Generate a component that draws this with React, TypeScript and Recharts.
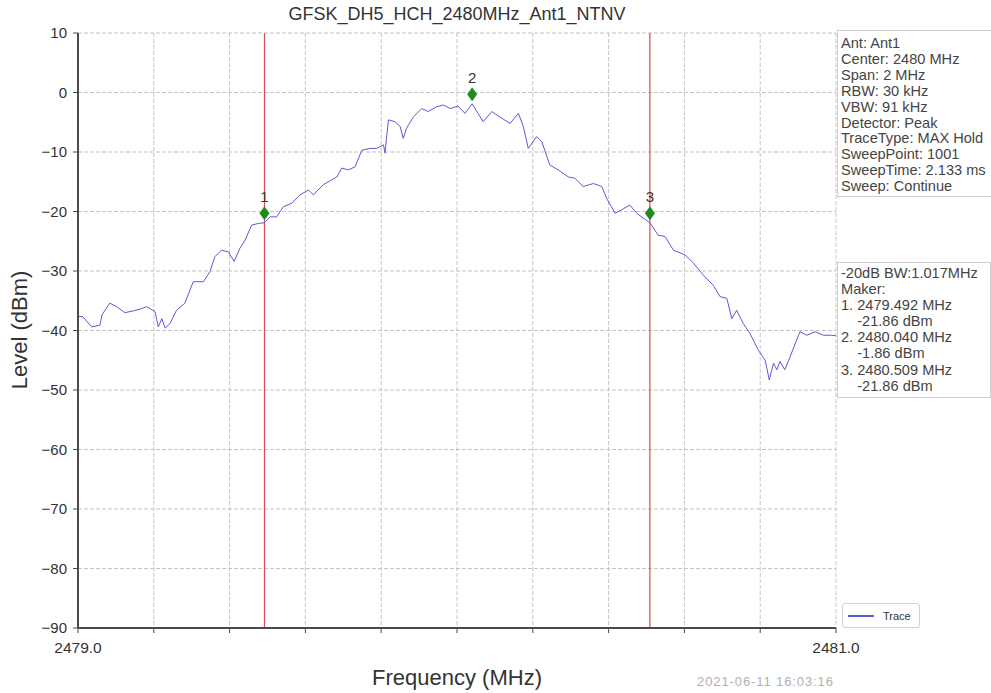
import React from 'react';
import {
  ComposedChart, Line, Scatter, XAxis, YAxis, CartesianGrid, ReferenceLine,
} from 'recharts';

const titleText = 'GFSK_DH5_HCH_2480MHz_Ant1_NTNV';
const xLabel = 'Frequency (MHz)';
const yLabel = 'Level (dBm)';
const timestamp = '2021-06-11 16:03:16';
const seriesName = 'Trace';

const xTicks = [2479.0, 2479.2, 2479.4, 2479.6, 2479.8, 2480.0, 2480.2, 2480.4, 2480.6, 2480.8, 2481.0];
const yTicks = [-90, -80, -70, -60, -50, -40, -30, -20, -10, 0, 10];

const traceFreqs = [
  2479.000, 2479.013, 2479.036, 2479.058, 2479.063, 2479.084, 2479.102, 2479.124, 2479.146, 2479.164,
  2479.181, 2479.203, 2479.212, 2479.221, 2479.230, 2479.243, 2479.260, 2479.282, 2479.304, 2479.331,
  2479.348, 2479.361, 2479.379, 2479.397, 2479.412, 2479.427, 2479.441, 2479.458, 2479.476, 2479.492,
  2479.507, 2479.524, 2479.542, 2479.564, 2479.586, 2479.608, 2479.621, 2479.647, 2479.683, 2479.696,
  2479.713, 2479.731, 2479.749, 2479.770, 2479.788, 2479.806, 2479.810, 2479.819, 2479.836, 2479.850,
  2479.858, 2479.867, 2479.885, 2479.907, 2479.924, 2479.946, 2479.964, 2479.982, 2480.003, 2480.021,
  2480.040, 2480.069, 2480.092, 2480.113, 2480.140, 2480.162, 2480.175, 2480.188, 2480.210, 2480.224,
  2480.245, 2480.267, 2480.294, 2480.311, 2480.333, 2480.360, 2480.382, 2480.395, 2480.417, 2480.435,
  2480.456, 2480.474, 2480.509, 2480.531, 2480.549, 2480.571, 2480.602, 2480.624, 2480.650, 2480.676,
  2480.694, 2480.712, 2480.725, 2480.738, 2480.755, 2480.773, 2480.795, 2480.813, 2480.824, 2480.835,
  2480.844, 2480.852, 2480.865, 2480.879, 2480.901, 2480.905, 2480.923, 2480.945, 2480.967, 2480.989,
  2481.000,
];
const traceLevels = [
  -37.6, -37.7, -39.4, -39.1, -37.4, -35.4, -36.0, -37.0, -36.7, -36.4,
  -36.0, -36.8, -39.4, -38.0, -39.6, -38.8, -36.6, -35.4, -31.8, -31.8,
  -30.1, -27.6, -26.5, -26.8, -28.4, -26.2, -24.8, -22.3, -22.0, -21.9,
  -20.9, -20.9, -19.2, -18.6, -17.2, -16.4, -17.2, -15.5, -14.2, -12.7,
  -13.0, -12.5, -9.7, -9.4, -9.4, -8.8, -10.2, -4.6, -4.9, -5.7,
  -7.7, -6.0, -4.1, -2.7, -3.2, -2.4, -2.1, -2.7, -2.3, -3.5,
  -1.9, -4.9, -3.2, -4.1, -5.2, -3.5, -5.7, -9.4, -7.4, -8.3,
  -12.2, -13.0, -14.2, -14.4, -15.8, -15.3, -15.8, -17.8, -20.3, -19.7,
  -18.9, -20.3, -21.9, -24.0, -24.2, -26.5, -27.3, -28.7, -30.7, -32.4,
  -34.3, -34.6, -38.0, -36.6, -38.8, -40.5, -43.3, -45.0, -48.3, -45.5,
  -46.6, -45.2, -46.6, -44.4, -40.8, -40.2, -40.8, -40.2, -40.8, -40.8,
  -40.9,
];

const markerFreqs = [2479.492, 2480.040, 2480.509];
const markerLevels = [-20.3, -0.3, -20.3];
const markerLabels = ['1', '2', '3'];
const bwLineFreqs = [2479.492, 2480.509];

const infoLines = [
  'Ant: Ant1', 'Center: 2480 MHz', 'Span: 2 MHz', 'RBW: 30 kHz', 'VBW: 91 kHz',
  'Detector: Peak', 'TraceType: MAX Hold', 'SweepPoint: 1001', 'SweepTime: 2.133 ms', 'Sweep: Continue',
];
const markerInfoLines = [
  '-20dB BW:1.017MHz', 'Maker:', '1. 2479.492 MHz', '    -21.86 dBm', '2. 2480.040 MHz',
  '    -1.86 dBm', '3. 2480.509 MHz', '    -21.86 dBm',
];

const traceData = traceFreqs.map((f, i) => ({ f, level: traceLevels[i] }));
const markerData = markerFreqs.map((f, i) => ({ f, level: markerLevels[i], label: markerLabels[i] }));

const FONT = '"Liberation Sans", Arial, sans-serif';
const AXIS = '#4a4a4a';
const TRACE = '#5b5bd8';

const Diamond = (props: any) => {
  const { cx, cy, payload } = props;
  if (cx == null || cy == null) return null;
  return (
    <g>
      <path d={`M${cx},${cy - 7} L${cx + 5},${cy} L${cx},${cy + 7} L${cx - 5},${cy} Z`} fill="#1f8a1f" />
      <text x={cx} y={cy - 11} textAnchor="middle" fontSize={15} fill="#333" fontFamily={FONT}>{payload.label}</text>
    </g>
  );
};

export default function App() {
  return (
    <div style={{ position: 'absolute', left: 0, top: 0, width: 991, height: 693, background: '#fff', fontFamily: FONT, overflow: 'hidden' }}>
      <ComposedChart width={991} height={693} margin={{ top: 33, right: 155, bottom: 35, left: 0 }}>
        <CartesianGrid stroke="#c4c4c4" strokeDasharray="4 2" />
        <XAxis
          dataKey="f" type="number" domain={[2479, 2481]} ticks={xTicks} height={30}
          axisLine={{ stroke: AXIS, strokeWidth: 2 }} tickLine={{ stroke: AXIS }} tickSize={5} tickMargin={9}
          tick={{ fill: '#333', fontSize: 15.5, fontFamily: FONT }}
          tickFormatter={(v: number) => (v === 2479 || v === 2481 ? v.toFixed(1) : '')}
          interval={0} allowDecimals
        />
        <XAxis xAxisId="top" orientation="top" type="number" domain={[2479, 2481]} height={0}
          axisLine={{ stroke: AXIS, strokeWidth: 2 }} tick={false} tickLine={false} />
        <YAxis
          type="number" domain={[-90, 10]} ticks={yTicks} width={78} interval={0}
          axisLine={{ stroke: AXIS, strokeWidth: 2 }} tickLine={{ stroke: AXIS }} tickSize={5} tickMargin={6}
          tick={{ fill: '#333', fontSize: 15, fontFamily: FONT }}
          tickFormatter={(v: number) => String(v).replace('-', '\u2212')}
        />
        <YAxis yAxisId="right" orientation="right" type="number" domain={[-90, 10]} width={0}
          axisLine={{ stroke: AXIS, strokeWidth: 2 }} tick={false} tickLine={false} />
        {bwLineFreqs.map((f) => (
          <ReferenceLine key={f} x={f} stroke="#d94a4a" strokeWidth={1.2} />
        ))}
        <Line
          data={traceData} dataKey="level" name={seriesName} type="linear" stroke={TRACE} strokeWidth={1}
          dot={false} isAnimationActive={false}
        />
        <Scatter data={markerData} dataKey="level" name="Markers" shape={Diamond} isAnimationActive={false} />
      </ComposedChart>

      <div style={{ position: 'absolute', left: 0, width: 914, top: 4, textAlign: 'center', fontSize: 18, color: '#333', lineHeight: '20px' }}>{titleText}</div>
      <div style={{ position: 'absolute', left: 0, width: 914, top: 665, textAlign: 'center', fontSize: 22, color: '#333', lineHeight: '26px' }}>{xLabel}</div>
      <div style={{ position: 'absolute', left: 20, top: 330, width: 0, height: 0 }}>
        <div style={{ position: 'absolute', left: -100, top: -13, width: 200, textAlign: 'center', fontSize: 22, color: '#333', lineHeight: '26px', transform: 'rotate(-90deg)' }}>{yLabel}</div>
      </div>
      <div style={{ position: 'absolute', left: 697, top: 674, fontSize: 13, color: '#b0b0b0', letterSpacing: 0.9, lineHeight: '15px' }}>{timestamp}</div>

      <div style={{ position: 'absolute', left: 842, top: 603, width: 78, height: 25, border: '1px solid #d0d0d0', borderRadius: 3, background: '#fff', boxSizing: 'border-box', display: 'flex', alignItems: 'center', paddingLeft: 5 }}>
        <div style={{ width: 26, height: 0, borderTop: `2px solid ${TRACE}` }} />
        <span style={{ marginLeft: 9, fontSize: 11, color: '#333' }}>{seriesName}</span>
      </div>

      <div style={{ position: 'absolute', left: 837, top: 30, width: 170, height: 167, border: '1px solid #cfcfcf', boxSizing: 'border-box', background: '#fff', padding: '5px 0 0 3px', fontSize: 14.6, color: '#444', lineHeight: '15.9px' }}>
        {infoLines.map((t) => <div key={t} style={{ whiteSpace: 'pre' }}>{t}</div>)}
      </div>
      <div style={{ position: 'absolute', left: 837, top: 262, width: 154, height: 136, border: '1px solid #cfcfcf', boxSizing: 'border-box', background: '#fff', padding: '2px 0 0 3px', fontSize: 14.6, color: '#444', lineHeight: '16.1px' }}>
        {markerInfoLines.map((t, i) => <div key={i} style={{ whiteSpace: 'pre' }}>{t}</div>)}
      </div>
    </div>
  );
}
